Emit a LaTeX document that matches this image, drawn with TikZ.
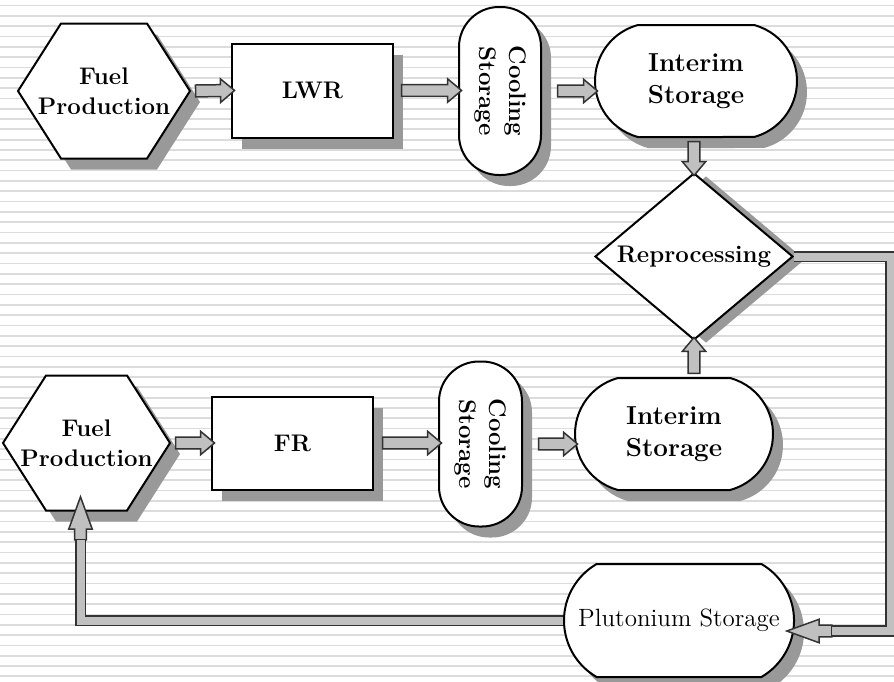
\documentclass[tikz,border=0pt]{standalone}
\usepackage{tikz}
\usetikzlibrary{shapes.geometric, shapes.misc, shapes.arrows, shadows, calc}

\definecolor{stripegray}{HTML}{DCDCDC}
\definecolor{shadowgray}{HTML}{999999}
\definecolor{pipefill}{HTML}{C0C0C0}
\definecolor{pipeedge}{HTML}{333333}

\tikzset{
  stage/.style={draw=black, line width=1pt, fill=white, align=center, inner sep=0pt,
    font=\fontsize{12}{15}\selectfont\bfseries},
  lifted/.style={drop shadow={shadow xshift=5pt, shadow yshift=-5.5pt, fill=shadowgray, opacity=1}},
  hexline/.style={draw=black, line width=1pt, fill=white, line join=miter, lifted},
  box/.style={stage, lifted, rectangle},
  pill/.style={stage, lifted, rectangle, rounded corners=20pt},
  store/.style={stage, lifted, rounded rectangle, rounded rectangle arc length=120},
  flowarrow/.style={single arrow, draw=pipeedge, fill=pipefill, line width=0.75pt,
    inner xsep=0pt, inner ysep=2.6pt, minimum width=0pt,
    single arrow head extend=2.9pt, single arrow tip angle=80},
  pipehead/.style={flowarrow, single arrow tip angle=40},
  pipe/.style={line width=5.8pt, draw=pipeedge, line join=miter,
    postaction={draw=pipefill, line width=4pt}},
}

% block arrow between two points
\newcommand\flow[3][flowarrow]{%
  \path let \p1=(#2), \p2=(#3),
    \n1={veclen(\x2-\x1,\y2-\y1)}, \n2={atan2(\y2-\y1,\x2-\x1)} in
    node[#1, minimum height=\n1, rotate=\n2] at ($(\p1)!0.5!(\p2)$) {};}

% hexagon stage: name, centre, half width
\newcommand\hexnode[3]{%
  \draw[hexline] ($(#2)+(-#3,0)$) -- ++(43,-67.5) -- ++({2*#3-86},0) -- ++(43,67.5)
    -- ++(-43,67.5) -- ++({86-2*#3},0) -- cycle;
  \node[stage, draw=none, fill=none, minimum width={#3*1pt}, minimum height=67.5pt] (#1) at (#2) {Fuel\\Production};}

\newcommand\coolstack{\rotatebox{-90}{\begin{tabular}{@{}c@{}}Cooling\\Storage\end{tabular}}}

\begin{document}
\begin{tikzpicture}[x=0.5pt, y=-0.5pt]
  \useasboundingbox (0,0) rectangle (894,681);
  % background
  \foreach \k in {0,...,65}
    \draw[stripegray, line width=0.85pt] (0,{5.5+10.32*\k}) -- (894,{5.5+10.32*\k});

  % LWR line
  \hexnode{fuelA}{104,91}{86}
  \node[box, minimum width=80.5pt, minimum height=47pt] (lwr) at (312.5,90.5) {LWR};
  \node[pill, minimum width=41pt, minimum height=84pt] (coolA) at (500,91) {\coolstack};
  \node[store, rounded rectangle arc length=150, font=\fontsize{13}{16}\selectfont\bfseries,
    minimum width=101pt, minimum height=56pt] (interimA) at (696,81) {Interim\\Storage};
  \node[stage, diamond, minimum width=99pt, minimum height=83.5pt,
    drop shadow={shadow xshift=6pt, shadow yshift=-1.5pt, fill=shadowgray, opacity=1}] (reproc) at (694,256.5) {\makebox[0pt]{Reprocessing}};

  % FR line
  \hexnode{fuelB}{86.5,443}{83.5}
  \node[box, minimum width=80.5pt, minimum height=46.5pt] (fr) at (292.5,443) {FR};
  \node[pill, minimum width=41.5pt, minimum height=82.5pt] (coolB) at (480.5,444) {\coolstack};
  \node[store, rounded rectangle arc length=150, font=\fontsize{13}{16}\selectfont\bfseries,
    minimum width=99pt, minimum height=56pt] (interimB) at (674,434) {Interim\\Storage};
  \node[store, font=\fontsize{12.5}{15}\selectfont, minimum width=115pt, minimum height=56.5pt] (pluto) at (679,620.5) {\makebox[0pt]{Plutonium Storage}};

  % short arrows
  \flow{[xshift=0.5pt]fuelA.east}{lwr.west}
  \flow{[xshift=2pt]lwr.east}{lwr.east -| coolA.west}
  \flow{[xshift=6pt]coolA.east}{coolA.east -| interimA.west}
  \flow{interimA.south -| reproc.north}{reproc.north}
  \flow{interimB.north -| reproc.south}{reproc.south}
  \flow{[xshift=0.5pt]fuelB.east}{fr.west}
  \flow{[xshift=2.5pt]fr.east}{fr.east -| coolB.west}
  \flow{[xshift=6pt]coolB.east}{coolB.east -| interimB.west}

  % return pipes
  \coordinate (rimA) at (891,0);
  \coordinate (pluIn) at (795,631);
  \coordinate (pluTail) at (840,631);
  \coordinate (pluStop) at (832,631);
  \coordinate (fuelIn) at (80.5,505);
  \coordinate (fuelTail) at (80.5,548);
  \coordinate (fuelStop) at (80.5,540);
  \flow[pipehead]{pluTail}{pluIn}
  \draw[pipe] (reproc.east) -- (reproc.east -| rimA) |- (pluStop);
  \flow[pipehead]{fuelTail}{fuelIn}
  \draw[pipe] (pluto.west) -| (fuelStop);
\end{tikzpicture}
\end{document}
